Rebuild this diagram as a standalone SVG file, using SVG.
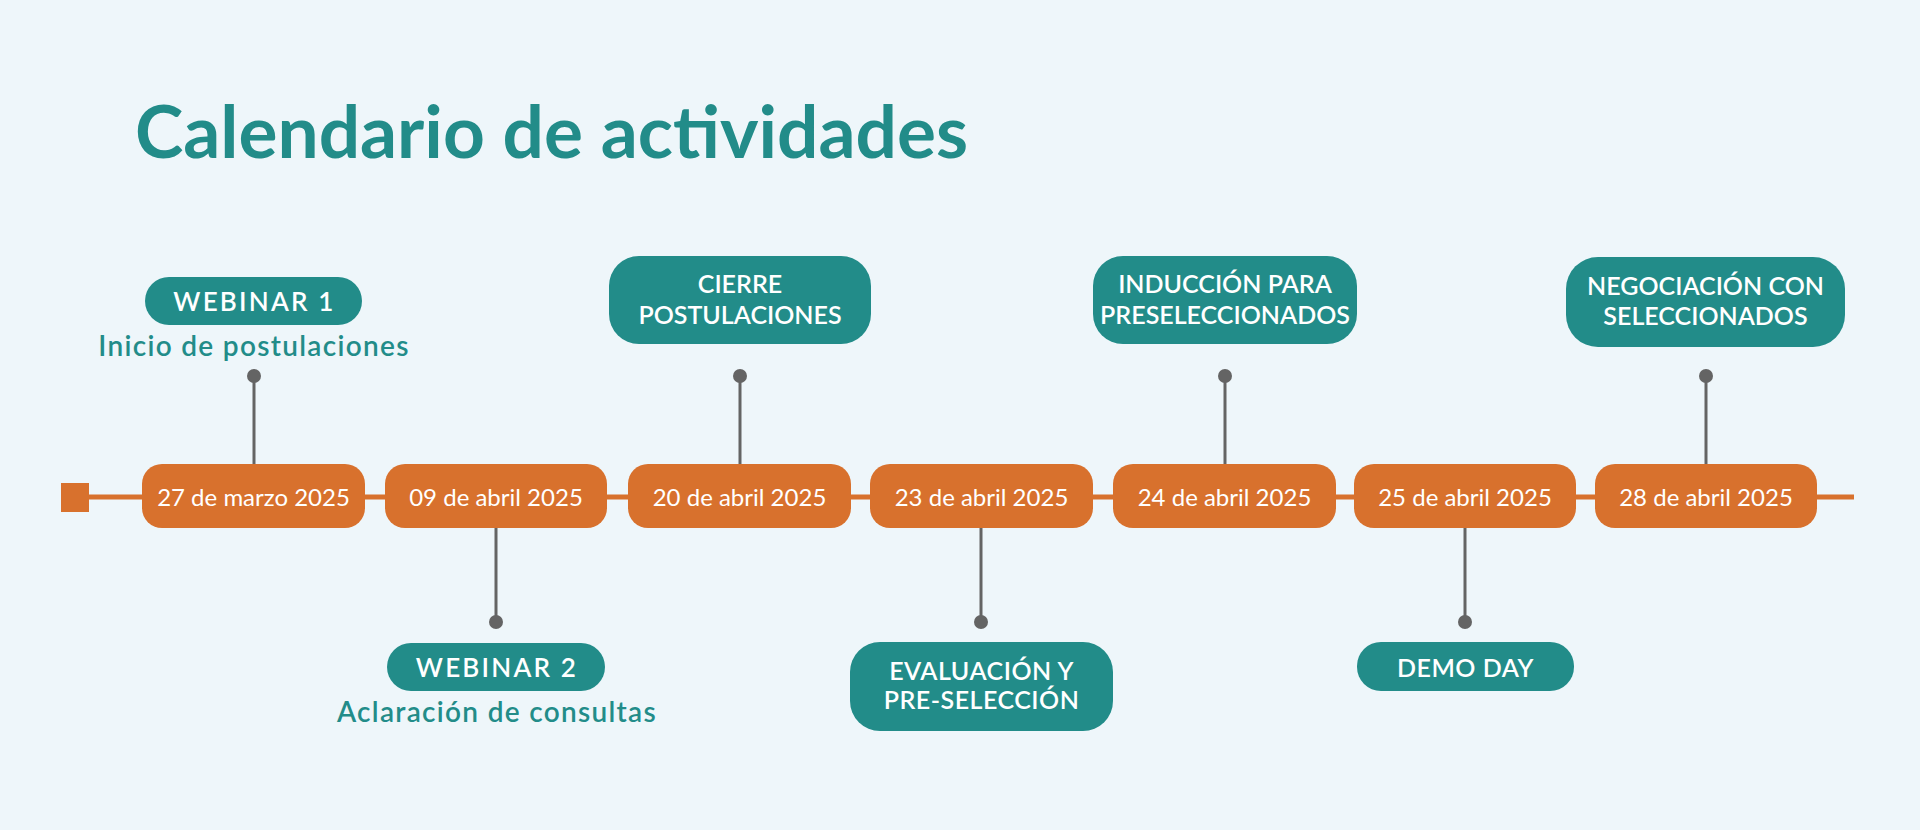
<svg xmlns="http://www.w3.org/2000/svg" width="1920" height="830" viewBox="0 0 1920 830">
<style>
.teal{fill:#228C89}
.date{fill:#D8712D}
.dtxt{font-family:Lato,"Liberation Sans",sans-serif;font-size:24px;fill:#ffffff;text-anchor:middle}
.ltxt{font-family:Lato,"Liberation Sans",sans-serif;font-size:25px;font-weight:600;fill:#ffffff;text-anchor:middle}
.wtxt{font-family:Lato,"Liberation Sans",sans-serif;font-size:26px;font-weight:600;fill:#ffffff;text-anchor:middle;letter-spacing:2.2px}
.sub{font-family:Lato,"Liberation Sans",sans-serif;font-size:28px;font-weight:600;fill:#228C89;text-anchor:middle;letter-spacing:1.3px}
.stem{stroke:#646464;stroke-width:3}
.dot{fill:#646464}
</style>
<rect x="0" y="0" width="1920" height="830" fill="#EEF6FA"/>
<text x="135" y="158" font-family="Lato,'Liberation Sans',sans-serif" font-size="73" font-weight="700" fill="#228C89">Calendario de actividades</text>

<g id="connectors">
<line x1="75" y1="497" x2="1854" y2="497" stroke="#D8712D" stroke-width="5"/>
<line class="stem" x1="254" y1="376" x2="254" y2="464"/><circle class="dot" cx="254" cy="376" r="7"/>
<line class="stem" x1="496" y1="528" x2="496" y2="622"/><circle class="dot" cx="496" cy="622" r="7"/>
<line class="stem" x1="740" y1="376" x2="740" y2="464"/><circle class="dot" cx="740" cy="376" r="7"/>
<line class="stem" x1="981" y1="528" x2="981" y2="622"/><circle class="dot" cx="981" cy="622" r="7"/>
<line class="stem" x1="1225" y1="376" x2="1225" y2="464"/><circle class="dot" cx="1225" cy="376" r="7"/>
<line class="stem" x1="1465" y1="528" x2="1465" y2="622"/><circle class="dot" cx="1465" cy="622" r="7"/>
<line class="stem" x1="1706" y1="376" x2="1706" y2="464"/><circle class="dot" cx="1706" cy="376" r="7"/>
</g>

<g id="start"><rect x="61" y="483" width="28" height="29" fill="#D8712D"/></g>

<g id="d1"><rect class="date" x="142" y="464" width="223" height="64" rx="20"/><text class="dtxt" x="253.5" y="506">27 de marzo 2025</text></g>
<g id="d2"><rect class="date" x="385" y="464" width="222" height="64" rx="20"/><text class="dtxt" x="496" y="506">09 de abril 2025</text></g>
<g id="d3"><rect class="date" x="628" y="464" width="223" height="64" rx="20"/><text class="dtxt" x="739.5" y="506">20 de abril 2025</text></g>
<g id="d4"><rect class="date" x="870" y="464" width="223" height="64" rx="20"/><text class="dtxt" x="981.5" y="506">23 de abril 2025</text></g>
<g id="d5"><rect class="date" x="1113" y="464" width="223" height="64" rx="20"/><text class="dtxt" x="1224.5" y="506">24 de abril 2025</text></g>
<g id="d6"><rect class="date" x="1354" y="464" width="222" height="64" rx="20"/><text class="dtxt" x="1465" y="506">25 de abril 2025</text></g>
<g id="d7"><rect class="date" x="1595" y="464" width="222" height="64" rx="20"/><text class="dtxt" x="1706" y="506">28 de abril 2025</text></g>

<g id="webinar1"><rect class="teal" x="145" y="277" width="217" height="48" rx="24"/><text class="wtxt" x="254.5" y="311">WEBINAR 1</text><text class="sub" x="254" y="356">Inicio de postulaciones</text></g>
<g id="cierre"><rect class="teal" x="609" y="256" width="262" height="88" rx="30"/><text class="ltxt" x="740" y="293">CIERRE</text><text class="ltxt" x="740" y="324">POSTULACIONES</text></g>
<g id="induccion"><rect class="teal" x="1093" y="256" width="264" height="88" rx="30"/><text class="ltxt" x="1225" y="293">INDUCCIÓN PARA</text><text class="ltxt" x="1225" y="324">PRESELECCIONADOS</text></g>
<g id="negociacion"><rect class="teal" x="1566" y="257" width="279" height="90" rx="32"/><text class="ltxt" x="1705.5" y="295">NEGOCIACIÓN CON</text><text class="ltxt" x="1705.5" y="325">SELECCIONADOS</text></g>

<g id="webinar2"><rect class="teal" x="387" y="643" width="218" height="48" rx="24"/><text class="wtxt" x="497" y="677">WEBINAR 2</text><text class="sub" x="497" y="722">Aclaración de consultas</text></g>
<g id="evaluacion"><rect class="teal" x="850" y="642" width="263" height="89" rx="30"/><text class="ltxt" x="981.5" y="680" letter-spacing="0.5">EVALUACIÓN Y</text><text class="ltxt" x="981.5" y="709" letter-spacing="0.5">PRE-SELECCIÓN</text></g>
<g id="demoday"><rect class="teal" x="1357" y="642" width="217" height="49" rx="24"/><text class="ltxt" x="1465.5" y="677" letter-spacing="0.5">DEMO DAY</text></g>
</svg>
